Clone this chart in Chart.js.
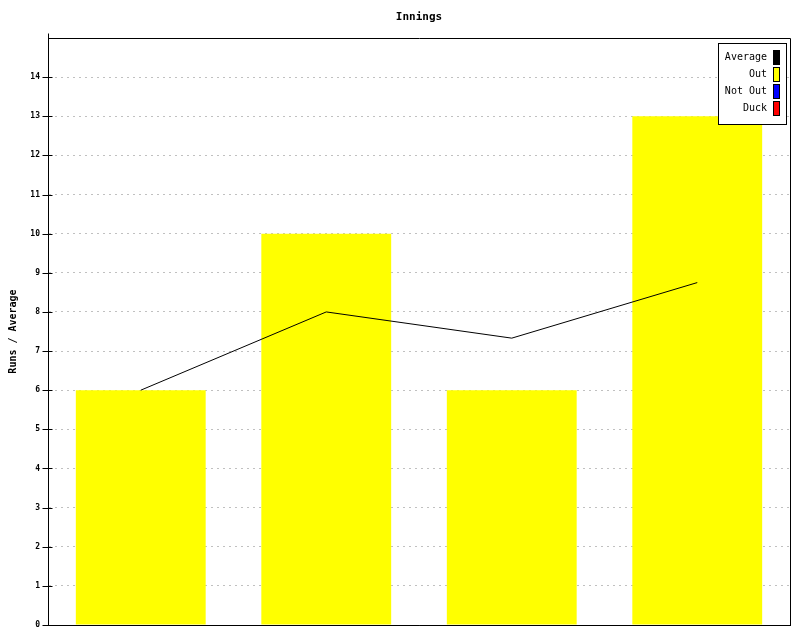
<!DOCTYPE html>
<html><head><meta charset="utf-8">
<style>html,body{margin:0;padding:0;background:#fff}</style>
<script src="https://cdn.jsdelivr.net/npm/chart.js@4"></script>
</head><body>
<canvas id="c" width="800" height="640" style="display:block;width:800px;height:640px"></canvas>
<script>
const chartTitle = 'Innings';
const yTitle = 'Runs / Average';
const categories = ['1', '2', '3', '4'];
const outRuns = [6, 10, 6, 13];
const notOutRuns = [0, 0, 0, 0];
const duckRuns = [0, 0, 0, 0];
const average = [6, 8, 7.33, 8.75];
const yMin = 0, yMax = 15, yStep = 1;

const MONO = '"DejaVu Sans Mono", monospace';

const framePlugin = {
  id: 'frame',
  afterDatasetsDraw(chart) {
    const ctx = chart.ctx, a = chart.chartArea;
    const L = Math.round(a.left) + 0.5, R = Math.round(a.right) + 0.5;
    const T = Math.round(a.top) + 0.5, B = Math.round(a.bottom) + 0.5;
    ctx.save();
    ctx.strokeStyle = '#000';
    ctx.lineWidth = 1;
    ctx.setLineDash([]);
    ctx.beginPath();
    ctx.moveTo(L, T - 5);
    ctx.lineTo(L, B);
    ctx.lineTo(R, B);
    ctx.lineTo(R, T);
    ctx.lineTo(L, T);
    ctx.stroke();
    // y tick marks crossing the axis
    const ys = chart.scales.y;
    ctx.beginPath();
    ys.ticks.forEach(t => {
      if (t.value === yMax) return;
      const y = Math.round(ys.getPixelForValue(t.value)) + 0.5;
      ctx.moveTo(L - 6, y);
      ctx.lineTo(t.value === yMin ? L : L + 4, y);
    });
    ctx.stroke();
    ctx.restore();
  },
  afterDraw(chart) {
    const ctx = chart.ctx, a = chart.chartArea;
    ctx.save();
    ctx.fillStyle = '#000';
    ctx.font = 'bold 11px ' + MONO;
    ctx.textAlign = 'center';
    ctx.textBaseline = 'middle';
    ctx.fillText(chartTitle, (a.left + a.right) / 2, 17);
    const lx = 718, ly = 43, lw = 68, lh = 81;
    ctx.fillStyle = '#fff';
    ctx.fillRect(lx, ly, lw, lh);
    ctx.strokeStyle = '#000';
    ctx.lineWidth = 1;
    ctx.strokeRect(lx + 0.5, ly + 0.5, lw, lh);
    ctx.font = '10px ' + MONO;
    ctx.textAlign = 'right';
    chart.data.datasets.forEach((ds, i) => {
      const cy = 57 + i * 17;
      ctx.fillStyle = '#000';
      ctx.fillText(ds.label, 767, cy);
      ctx.fillStyle = ds.type === 'line' ? ds.borderColor : ds.backgroundColor;
      ctx.fillRect(773, cy - 7, 7, 15);
      ctx.strokeStyle = '#000';
      ctx.strokeRect(773.5, cy - 7 + 0.5, 6, 14);
    });
    ctx.restore();
  }
};

new Chart(document.getElementById('c'), {
  data: {
    labels: categories,
    datasets: [
      { type: 'line', label: 'Average', data: average, borderColor: '#000000', backgroundColor: '#000000',
        borderWidth: 1, pointRadius: 0, tension: 0, fill: false, order: 0 },
      { type: 'bar', label: 'Out', data: outRuns, backgroundColor: '#ffff00', borderWidth: 0, order: 1,
        grouped: false, categoryPercentage: 1, barPercentage: 0.7 },
      { type: 'bar', label: 'Not Out', data: notOutRuns, backgroundColor: '#0000ff', borderWidth: 0, order: 2,
        grouped: false, categoryPercentage: 1, barPercentage: 0.7 },
      { type: 'bar', label: 'Duck', data: duckRuns, backgroundColor: '#ff0000', borderWidth: 0, order: 3,
        grouped: false, categoryPercentage: 1, barPercentage: 0.7 }
    ]
  },
  options: {
    responsive: false,
    animation: false,
    events: [],
    layout: { padding: { top: 38, right: 10, left: 0, bottom: 0 } },
    plugins: { legend: { display: false }, title: { display: false }, tooltip: { enabled: false } },
    scales: {
      x: {
        offset: true,
        grid: { display: false },
        ticks: { display: false },
        border: { display: true, color: '#000' },
        afterFit(s) { s.height = 15; }
      },
      y: {
        min: yMin, max: yMax,
        ticks: {
          stepSize: yStep,
          callback: v => (v === yMax ? '' : v),
          font: { family: MONO, size: 8, weight: 'bold' },
          color: '#000',
          padding: 8
        },
        grid: {
          color: ctx => (ctx.tick && (ctx.tick.value === yMax || ctx.tick.value === yMin) ? 'rgba(0,0,0,0)' : '#c0c0c0'),
          drawTicks: false,
          lineWidth: 1
        },
        border: { display: true, color: '#000', dash: [2, 4], dashOffset: -6 },
        title: {
          display: true, text: yTitle, color: '#000',
          font: { family: MONO, size: 10, weight: 'bold' },
          padding: { top: 7, bottom: 0 }
        },
        afterFit(s) { s.width = 48; }
      }
    }
  },
  plugins: [framePlugin]
});
</script>
</body></html>
